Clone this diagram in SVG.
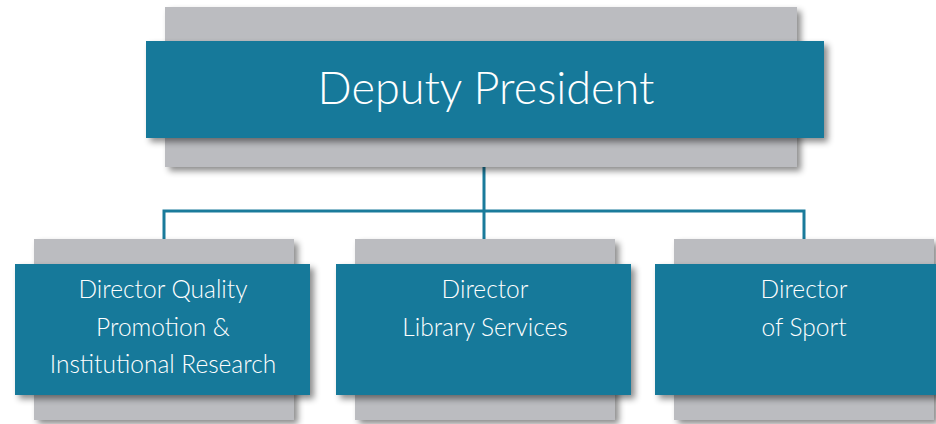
<svg xmlns="http://www.w3.org/2000/svg" width="936" height="424" viewBox="0 0 936 424">
<defs>
<filter id="sh" x="-10%" y="-20%" width="130%" height="150%">
<feDropShadow dx="4" dy="4" stdDeviation="3" flood-color="#000" flood-opacity="0.45"/>
</filter>
</defs>
<style>
.back{fill:#BBBCC0;filter:url(#sh)}
.front{fill:#14799A;filter:url(#sh)}
.conn{stroke:#1A7B9B;stroke-width:3;fill:none}
text{font-family:Lato,"Open Sans","Liberation Sans",sans-serif;font-weight:300;fill:#fff;text-anchor:middle}
.big{font-size:45px}
.sm{font-size:24.5px}
</style>
<rect width="936" height="424" fill="#fff"/>
<g id="connectors">
<path class="conn" d="M484,166 V239 M164,240 V211 H804 V240"/>
</g>
<g id="deputy-president">
<rect class="back" x="165" y="7" width="632" height="160"/>
<rect class="front" x="146" y="41" width="678" height="97"/>
<text class="big" x="486" y="104">Deputy President</text>
</g>
<g id="director-quality">
<rect class="back" x="34" y="239" width="260" height="181"/>
<rect class="front" x="15" y="264" width="295" height="131"/>
<text class="sm" x="163" y="298">Director Quality</text>
<text class="sm" x="163" y="336">Promotion &amp;</text>
<text class="sm" x="163" y="373">Institutional Research</text>
</g>
<g id="director-library">
<rect class="back" x="355" y="239" width="260" height="181"/>
<rect class="front" x="336" y="264" width="295" height="131"/>
<text class="sm" x="485" y="298">Director</text>
<text class="sm" x="485" y="336">Library Services</text>
</g>
<g id="director-sport">
<rect class="back" x="674" y="239" width="260" height="181"/>
<rect class="front" x="655" y="264" width="295" height="131"/>
<text class="sm" x="804" y="298">Director</text>
<text class="sm" x="804" y="336">of Sport</text>
</g>
</svg>
